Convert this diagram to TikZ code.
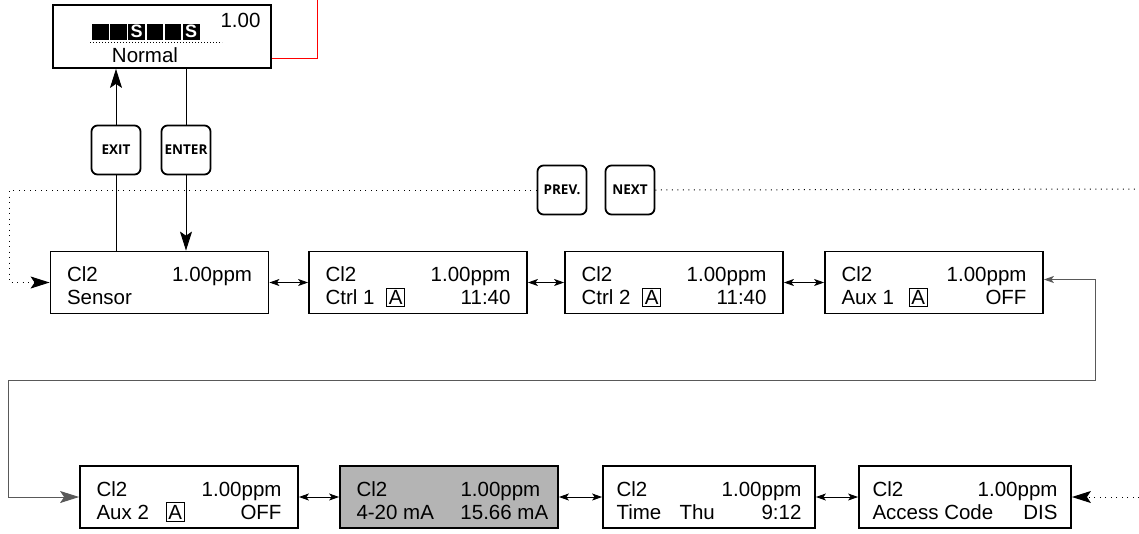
\documentclass[tikz,border=0pt]{standalone}
\usepackage{fontspec}
\setmainfont{Liberation Sans}
\newfontfamily\keyfont{Open Sans}
\usetikzlibrary{arrows.meta}
\definecolor{lcdgray}{RGB}{180,180,180}

\newcommand{\lcd}[2]{\parbox{185pt}{\rule{0pt}{25pt}#1\\#2\rule[-4pt]{0pt}{0pt}}\hspace{9pt}}
\newcommand{\boxA}{{\fboxsep=1.5pt\fboxrule=1pt\fbox{A}}}

\begin{document}
\begin{tikzpicture}[x=1pt, y=-1pt,
    screen/.style={draw, line width=1.8pt, minimum width=218pt, minimum height=62pt, inner sep=0pt, font=\fontsize{20.5pt}{23pt}\selectfont},
    key/.style={draw, line width=1.8pt, rounded corners=6pt, minimum size=49pt, inner sep=0pt, fill=white, font=\keyfont\bfseries\fontsize{13.5pt}{15pt}\selectfont},
    link/.style={line width=0.9pt},
    both/.style={link, {Stealth[length=10pt,width=7pt,inset=2.5pt]}-{Stealth[length=10pt,width=7pt,inset=2.5pt]}},
    dots/.style={line width=1pt, dash pattern=on 1pt off 4.5pt},
    big/.style={-{Stealth[length=19pt,width=12pt,inset=4pt]}}]
    \useasboundingbox (0,0) rectangle (1139,533);

    % main display
    \node [screen, minimum height=63pt] (disp) at (162,36.5) {};
    \foreach \i in {0,...,5} {
        \fill ({92+18.2*\i},23.5) rectangle ++(16.5,16);
    }
    \foreach \i in {2,5} {
        \node [text=white, inner sep=0pt, font=\bfseries\fontsize{18pt}{18pt}\selectfont] (s\i) at ({100.25+18.2*\i},31.5) {S};
    }
    \draw [line width=1pt, dash pattern=on 1pt off 2pt] (90,42) -- (222,42);
    \node [anchor=base, inner sep=0pt, font=\fontsize{20.5pt}{23pt}\selectfont] (lvl)  at (240.5,27) {1.00};
    \node [anchor=base, inner sep=0pt, font=\fontsize{20.5pt}{23pt}\selectfont] (mode) at (145,62)   {Normal};
    \draw [red, link] ([yshift=10pt]disp.south east) -| (317,0);

    % keys
    \node [key] (exit)  at (116,150) {EXIT};
    \node [key] (enter) at (186,150) {ENTER};
    \node [key] (prev)  at (562,190) {PREV.};
    \node [key] (next)  at (630,190) {NEXT};

    % menu screens
    \node [screen] (sensor) at (159.5,282.5) {\lcd{Cl2\hfill 1.00ppm}{Sensor}};
    \node [screen] (ctrla)  at (418,282.5)   {\lcd{Cl2\hfill 1.00ppm}{Ctrl 1\hspace{12pt}\boxA\hfill 11:40}};
    \node [screen] (ctrlb)  at (674,282.5)   {\lcd{Cl2\hfill 1.00ppm}{Ctrl 2\hspace{12pt}\boxA\hfill 11:40}};
    \node [screen] (auxa)   at (934,282.5)   {\lcd{Cl2\hfill 1.00ppm}{Aux 1\hspace{15pt}\boxA\hfill OFF}};
    \node [screen] (auxb)   at (189,497)     {\lcd{Cl2\hfill 1.00ppm}{Aux 2\hspace{17pt}\boxA\hfill OFF}};
    \node [screen, fill=lcdgray] (mout) at (449,497)
        {\lcd{\makebox[104pt][l]{Cl2}1.00ppm}{\mbox{\makebox[104pt][l]{4-20 mA}15.66 mA}}};
    \node [screen, minimum width=212pt] (clock)  at (709,497) {\lcd{Cl2\hfill 1.00ppm}{\makebox[63pt][l]{Time}Thu\hfill 9:12}};
    \node [screen, minimum width=212pt] (access) at (965,497) {\lcd{Cl2\hfill 1.00ppm}{Access Code\hfill DIS}};

    % key paths
    \draw [link] (sensor.north -| exit) -- (exit.south);
    \draw [link, big] (exit.north) -- (disp.south -| exit);
    \draw [link] (disp.south -| enter) -- (enter.north);
    \draw [link, big] (enter.south) -- (sensor.north -| enter);

    \coordinate (rimA) at (1139,189);
    \coordinate (rimB) at (1139,497);
    \draw [dots, big] (prev.west) -| ([xshift=-40pt]sensor.west) -- (sensor.west);
    \draw [dots] (next.east) -- (rimA);
    \draw [dots, big] (rimB) -- (access.east);

    \foreach \a/\b in {sensor/ctrla, ctrla/ctrlb, ctrlb/auxa, auxb/mout, mout/clock, clock/access} {
        \draw [both] (\a) -- (\b);
    }
    \draw [link, black!65, {Stealth[length=10pt,width=7pt,inset=2.5pt]}-{Stealth[length=19pt,width=12pt,inset=4pt]}]
        ([yshift=3pt]auxa.east) -- ++(52,0) -- ++(0,101) -| ([xshift=-71pt]auxb.west) -- (auxb.west);
\end{tikzpicture}
\end{document}
